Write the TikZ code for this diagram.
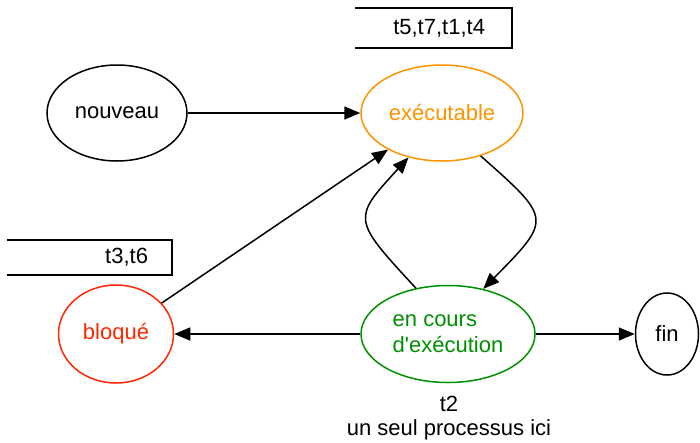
\documentclass[tikz,border=0pt]{standalone}
\usepackage{fontspec}
\setmainfont{Liberation Sans}
\usetikzlibrary{shapes, arrows.meta, calc}
\tikzset{>={Triangle[length=16pt,width=13pt]}}
\definecolor{tangerine}{RGB}{255,147,0}
\definecolor{maraschino}{RGB}{255,38,0}
\definecolor{clover}{RGB}{0,143,0}

\begin{document}
\begin{tikzpicture}[x=1pt, y=-1pt]

\tikzstyle{state}=[draw=black, ellipse, line width=1.5pt, inner sep=0pt, font=\fontsize{22}{26}\selectfont]
\tikzstyle{queue}=[rectangle, inner ysep=0pt, align=right, font=\fontsize{22}{26}\selectfont]
\tikzstyle{trans}=[->, line width=1.5pt]
\tikzstyle{side}=[line width=1.5pt]

\useasboundingbox (0,0) rectangle (700,442);

% states
\node [state, minimum width=140, minimum height=96] (nouveau) at (117,113) {nouveau};
\node [state, draw=tangerine, text=tangerine, minimum width=162, minimum height=96] (exec) at (442,113) {exécutable};
\node [state, draw=maraschino, text=maraschino, minimum width=115, minimum height=98] (bloque) at (116,334) {bloqué};
\node [state, draw=clover, text=clover, align=left, minimum width=174, minimum height=97] (run) at (448,334) {en cours\\d\textquotesingle exécution};
\node [state, minimum width=63, minimum height=82] (fin) at (667,334) {fin};

\node [align=center, font=\fontsize{22}{24}\selectfont] (note) at (449,418) {t2\\un seul processus ici};

% queues
\node [queue, minimum width=157, minimum height=40, inner xsep=27pt, text width=103pt] (readyq) at (433.5,28) {t5,t7,t1,t4};
\node [queue, minimum width=165, minimum height=35, inner xsep=24pt, text width=117pt] (blockedq) at (89.5,257.5) {t3,t6};
\draw [side] (readyq.north west) -- (readyq.north east) -- (readyq.south east) -- (readyq.south west);
\draw [side] (blockedq.north west) -- (blockedq.north east) -- (blockedq.south east) -- (blockedq.south west);

% transitions
\draw [trans] (nouveau) -- (exec);
\draw [trans] (bloque) -- (exec);
\draw [trans] (run.125) .. controls (352,219) .. (exec.233);
\draw [trans] (exec.-48) .. controls (552,219) .. (run.52);
\draw [trans] (run) -- (bloque);
\draw [trans] (run) -- (fin);

\end{tikzpicture}
\end{document}
